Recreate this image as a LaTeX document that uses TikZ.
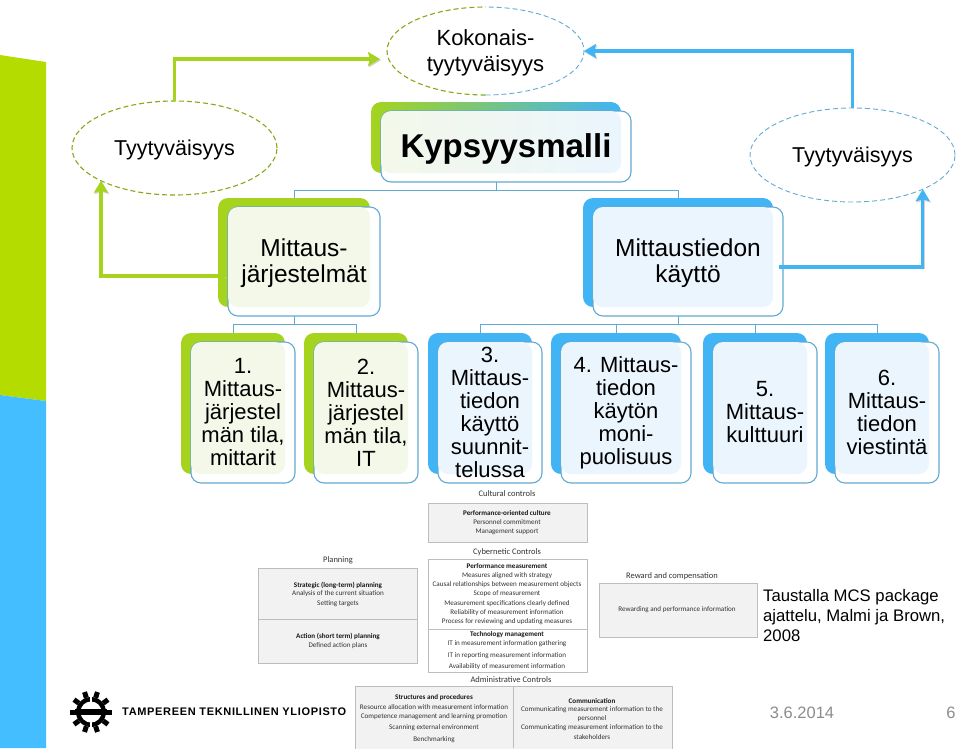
\documentclass[tikz,border=0pt]{standalone}
\usepackage{fontspec}
\usetikzlibrary{arrows.meta,shapes.geometric}
\setmainfont{Liberation Sans}
\newfontfamily\tablefont{Carlito}
\newfontfamily\logofont[LetterSpace=6]{Liberation Sans}
\definecolor{lvlgreen}{HTML}{A5D31E}
\definecolor{lvlblue}{HTML}{40B4F5}
\definecolor{tintgreen}{HTML}{F3F8E9}
\definecolor{tintblue}{HTML}{EBF5FD}
\definecolor{rimblue}{HTML}{62AAD2}
\definecolor{barGreen}{HTML}{B4DC00}
\definecolor{barBlue}{HTML}{45BEFF}
\definecolor{tabgray}{HTML}{F2F2F2}
\definecolor{tabrule}{HTML}{BDBDBD}
\newcommand\sz[2]{\fontsize{#1}{#2}\selectfont}
% name, left, top, right, bottom, back fill, tint fill, text keys, text
\newcommand\lvlbox[9]{%
\node[lvlshape,#6,minimum width={(#4-#2)*1pt},minimum height={(#5-#3)*1pt}] (#1b) at ({(#2+#4)/2-10},{(#3+#5)/2-9}) {};
\node[lvlshape,draw=rimblue,line width=1.1pt,fill=white,minimum width={(#4-#2)*1pt},minimum height={(#5-#3)*1pt}] (#1) at ({(#2+#4)/2},{(#3+#5)/2}) {};
\node[lvlshape,#7,minimum width={(#4-#2-10)*1pt},minimum height={(#5-#3-9)*1pt}] (#1t) at ({(#2+#4)/2-5},{(#3+#5)/2-4.5}) {};
\node[align=center,inner sep=0pt,#8] (#1l) at ({(#2+#4)/2},{(#3+#5)/2}) {#9};
}
\tikzset{
lvlshape/.style={rectangle,rounded corners=10pt,inner sep=0pt,outer sep=0pt},
treeline/.style={draw=rimblue,line width=.9pt},
goalshape/.style={ellipse,inner sep=0pt,outer sep=0pt,minimum width=205pt,minimum height=94pt,align=center},
greendash/.style={draw=lvlgreen!80!black,line width=1.1pt,dash pattern=on 5pt off 3pt},
bluedash/.style={draw=rimblue,line width=.9pt,dash pattern=on 5pt off 3pt},
goalarrow/.style={line width=3.4pt,-{Stealth[length=12pt,width=14pt,inset=2pt]},preaction={draw=black!18,transform canvas={xshift=1pt,yshift=-1.2pt}}},
tabbox/.style={rectangle,draw=tabrule,line width=.8pt,inner sep=0pt,outer sep=0pt},
tabtext/.style={font=\tablefont\sz{7.1}{9},text=black!80,inner sep=0pt},
tabhead/.style={font=\tablefont\bfseries\sz{7.1}{9},text=black!90,inner sep=0pt},
tabtitle/.style={font=\tablefont\sz{8.5}{10},text=black!80,inner sep=0pt}
}
\begin{document}
\begin{tikzpicture}[x=1pt,y=-1pt]
\useasboundingbox (0,0) rectangle (960,748);
\fill[barGreen] (0,55)--(46,62)--(46,401)--(0,395)--cycle;
\fill[barBlue] (0,395)--(46,401)--(46,748)--(0,748)--cycle;

\node[goalshape,minimum width=197pt,minimum height=88pt,font=\sz{22}{26}] (koko) at (485.5,51) {};
\node[inner sep=0pt,align=center,font=\sz{22}{26}] (kokol) at (485.5,53) {Kokonais-\\tyytyväisyys};
\draw[greendash] (koko.south) arc[start angle=270,end angle=90,x radius=98.5pt,y radius=44pt];
\draw[bluedash] (koko.south) arc[start angle=-90,end angle=90,x radius=98.5pt,y radius=44pt];
\node[goalshape,greendash] (tyyL) at (174.5,148) {};
\node[inner sep=0pt,font=\sz{21.5}{26}] (tyyLl) at (174.5,150) {Tyytyväisyys};
\node[goalshape,bluedash] (tyyR) at (852.5,155) {};
\node[inner sep=0pt,font=\sz{21.5}{26}] (tyyRl) at (852.5,157) {Tyytyväisyys};

\lvlbox{kyp}{381}{111}{631}{182}{left color=lvlgreen,right color=lvlblue}{left color=tintgreen,right color=tintblue}{font=\bfseries\sz{33}{38},yshift=-2pt}{Kypsyysmalli}
\lvlbox{mjar}{228}{207}{380}{316}{fill=lvlgreen}{fill=tintgreen}{font=\sz{24.5}{26},yshift=-2pt}{Mittaus-\\järjestelmät}
\lvlbox{kayt}{593}{207}{783}{316}{fill=lvlblue}{fill=tintblue}{font=\sz{24.5}{26},yshift=-2pt}{Mittaustiedon\\käyttö}
\foreach\n/\xl/\xr/\c/\tc/\t in {
r1/191/295/lvlgreen/tintgreen/{1.\\Mittaus-\\järjestel\\män tila,\\mittarit},
r2/314/418/lvlgreen/tintgreen/{2.\\Mittaus-\\järjestel\\män tila,\\IT},
r3/438/542/lvlblue/tintblue/{3.\\Mittaus-\\tiedon\\käyttö\\suunnit-\\telussa},
r4/561/691/lvlblue/tintblue/{4. Mittaus-\\tiedon\\käytön\\moni-\\puolisuus},
r5/713/817/lvlblue/tintblue/{5.\\Mittaus-\\kulttuuri},
r6/835/939/lvlblue/tintblue/{6.\\Mittaus-\\tiedon\\viestintä}}
{\lvlbox{\n}{\xl}{342}{\xr}{483}{fill=\c}{fill=\tc}{font=\sz{22}{23}}{\t}}

\coordinate (busA) at (0,190);
\coordinate (busB) at (0,324);
\foreach\b in {mjarb,kaytb} \draw[treeline] (kypb.south |- kyp.south) |- (busA -| \b.north) -- (\b.north);
\foreach\b in {r1b,r2b} \draw[treeline] (mjarb.south |- mjar.south) |- (busB -| \b.north) -- (\b.north);
\foreach\b in {r3b,r4b,r5b,r6b} \draw[treeline] (kaytb.south |- kayt.south) |- (busB -| \b.north) -- (\b.north);

\coordinate (kokoIn) at (380,59);
\coordinate (mjarOut) at (225,276);
\coordinate (kaytOut) at (779,267);
\draw[goalarrow,draw=lvlgreen] (tyyL.north) |- (kokoIn);
\draw[goalarrow,draw=lvlblue] (tyyR.north) |- (koko.east);
\draw[goalarrow,draw=lvlgreen] (mjarOut) -| (tyyL.204.5);
\draw[goalarrow,draw=lvlblue] (kaytOut) -| (tyyR.334.2);

\node[tabtitle] (culT) at (507,493.5) {Cultural controls};
\node[tabbox,fill=tabgray,minimum width=159pt,minimum height=39pt] (cul) at (507.5,522.5) {};
\foreach\y/\t/\s [count=\i] in {513/Performance-oriented culture/tabhead,522.5/Personnel commitment/tabtext,531.5/Management support/tabtext}
\node[\s] (cul\i) at (507,\y) {\t};

\node[tabtitle] (cybT) at (507,552.5) {Cybernetic Controls};
\node[tabbox,fill=white,minimum width=159pt,minimum height=113pt] (cyb) at (507.5,615.5) {};
\draw[tabbox] (cyb.west |- 0,629) -- (cyb.east |- 0,629);
\foreach\y/\t/\s [count=\i] in {566.5/Performance measurement/tabhead,576/Measures aligned with strategy/tabtext,585/Causal relationships between measurement objects/tabtext,594/Scope of measurement/tabtext,603.5/Measurement specifications clearly defined/tabtext,612.5/Reliability of measurement information/tabtext,622/Process for reviewing and updating measures/tabtext,634.5/Technology management/tabhead,644/IT in measurement information gathering/tabtext,655.5/IT in reporting measurement information/tabtext,667/Availability of measurement information/tabtext}
\node[\s] (cyb\i) at (507,\y) {\t};

\node[tabtitle] (plaT) at (338,560) {Planning};
\node[tabbox,fill=tabgray,minimum width=159pt,minimum height=95pt] (pla) at (338,615.5) {};
\draw[tabbox] (pla.west |- 0,619) -- (pla.east |- 0,619);
\foreach\y/\t/\s [count=\i] in {585/Strategic (long-term) planning/tabhead,594/Analysis of the current situation/tabtext,603.5/Setting targets/tabtext,636/Action (short term) planning/tabhead,645.5/Defined action plans/tabtext}
\node[\s] (pla\i) at (338,\y) {\t};

\node[tabtitle] (rewT) at (672,576.5) {Reward and compensation};
\node[tabbox,fill=tabgray,minimum width=158pt,minimum height=54pt] (rew) at (678,610) {};
\node[tabtext] (rew1) at (677,610) {Rewarding and performance information};

\node[tabtitle] (admT) at (511,679.5) {Administrative Controls};
\node[tabbox,fill=tabgray,minimum width=317pt,minimum height=70pt] (adm) at (513.5,721) {};
\draw[tabbox] (513,686) -- (513,748);
\foreach\y/\t/\s [count=\i] in {698/Structures and procedures/tabhead,707.5/Resource allocation with measurement information/tabtext,717/Competence management and learning promotion/tabtext,728/Scanning external environment/tabtext,740/Benchmarking/tabtext}
\node[\s] (admL\i) at (434,\y) {\t};
\foreach\y/\t/\s [count=\i] in {701/Communication/tabhead,710/Communicating measurement information to the/tabtext,719/personnel/tabtext,728/Communicating measurement information to the/tabtext,737/stakeholders/tabtext}
\node[\s] (admR\i) at (592,\y) {\t};

\node[anchor=west,align=left,inner sep=0pt,font=\sz{16.7}{20}] (taus) at (763,616) {Taustalla MCS package\\ajattelu, Malmi ja Brown,\\2008};
\node[inner sep=0pt,text=black!45,font=\sz{16.5}{20}] (pvm) at (802,713) {3.6.2014};
\node[inner sep=0pt,text=black!45,font=\sz{16.5}{20}] (sivu) at (951,713) {6};

% logo
\foreach\a in {0,36,...,324} \draw[line width=5pt] (91,712)++(\a:15pt) -- ++(\a:6pt);
\fill[black] (91,712) circle(15pt);
\fill[white] (91,712) circle(10.5pt);
\fill[black] (75,709) rectangle (107,715);
\foreach\y in {692,722} \fill[white] (90,\y) rectangle (92,\y+10);
\node[anchor=west,inner sep=0pt,font=\logofont\bfseries\sz{11}{14}] (logo) at (122,712) {TAMPEREEN TEKNILLINEN YLIOPISTO};
\end{tikzpicture}
\end{document}
